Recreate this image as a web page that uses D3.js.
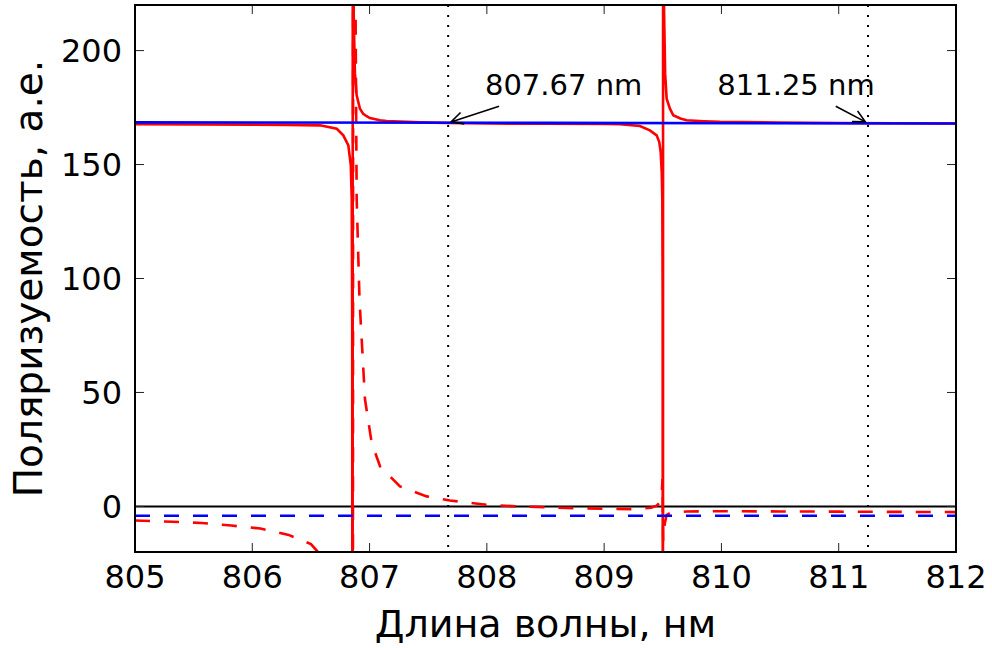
<!DOCTYPE html>
<html>
<head>
<meta charset="utf-8">
<script src="https://cdn.jsdelivr.net/npm/d3@7"></script>
<style>
  body { margin: 0; background: #fff; }
  text { font-family: "DejaVu Sans", sans-serif; fill: #000; }
</style>
</head>
<body>
<svg id="chart" width="992" height="648"></svg>
<script>
// axis ticks
const xTicks = [805, 806, 807, 808, 809, 810, 811, 812];
const yTicks = [0, 50, 100, 150, 200];

// polarizability, solid red (wavelength nm, a.u.)
const redSolid = [
  [805.0, 167.7], [805.5, 167.6], [806.0, 167.5], [806.3, 167.4], [806.577, 167.2],
  [806.72, 165.7], [806.776, 162.8], [806.819, 158.4], [806.84, 149.6], [806.848, 134.9],
  [806.852, 80], [806.855, -300],
  [806.857, 400], [806.865, 215], [806.875, 190], [806.89, 180.4], [806.918, 174.5],
  [806.946, 172.2], [806.975, 171.2], [807.003, 170.4], [807.088, 169.4], [807.146, 169.1],
  [807.43, 168.5], [807.67, 168.2], [808.0, 168.0], [808.5, 167.9], [809.0, 167.8],
  [809.135, 167.7], [809.305, 166.9], [809.39, 165.0], [809.448, 162.8], [809.47, 159.9],
  [809.482, 155.5], [809.491, 146.7], [809.496, 134.9], [809.499, 90], [809.501, -300],
  [809.503, 400], [809.51, 220], [809.52, 190], [809.533, 178.9], [809.561, 174.5],
  [809.589, 171.6], [809.65, 170.2], [809.703, 169.4], [809.85, 169.0], [809.987, 168.7],
  [810.5, 168.4], [811.0, 168.2], [811.5, 168.1], [812.0, 168.0]
];

// dashed red
const redDashed = [
  [805.0, -6.2], [805.32, -6.7], [805.57, -7.3], [805.82, -8.4], [806.07, -9.7],
  [806.31, -12.5], [806.5, -16.5], [806.56, -20], [806.65, -26], [806.75, -40],
  [806.82, -95], [806.855, -600],
  [806.862, 600], [806.875, 300], [806.88, 223], [806.89, 135], [806.914, 91],
  [806.961, 46.9], [807.018, 27.9], [807.089, 17.6], [807.259, 8.8], [807.487, 4.4],
  [807.686, 2.6], [807.999, 0.75], [808.254, 0], [808.681, -0.7], [809.246, -1.2],
  [809.4, -0.6], [809.448, 0.3], [809.47, 1.5], [809.49, 5.1], [809.498, 12],
  [809.503, -15], [809.518, -7.3], [809.533, -3.7], [809.561, -2.9], [809.703, -2.2],
  [810.0, -2.1], [810.5, -2.2], [811.0, -2.3], [811.5, -2.4], [812.0, -2.5]
];

const blueSolid = [[805.0, 168.5], [808.5, 168.3], [812.0, 168.0]];
const blueDashed = [[805.0, -4.1], [812.0, -4.1]];

// magic wavelengths
const markers = [807.67, 811.25];
const notes = [
  { label: "807.67 nm", x: 807.67, y: 168.3, tx: 807.984, ty: 180.4 },
  { label: "811.25 nm", x: 811.25, y: 168.1, tx: 809.965, ty: 180.4 }
];

const plotLeft = 135, plotRight = 956, plotTop = 5, plotBottom = 552;

const svg = d3.select("#chart");

const x = d3.scaleLinear().domain([805, 812]).range([plotLeft, plotRight]);
const y = d3.scaleLinear().domain([-20, 220]).range([plotBottom, plotTop]);

svg.append("defs")
  .append("clipPath")
  .attr("id", "plot-clip")
  .append("rect")
  .attr("x", plotLeft)
  .attr("y", plotTop)
  .attr("width", plotRight - plotLeft)
  .attr("height", plotBottom - plotTop);

const plot = svg.append("g").attr("clip-path", "url(#plot-clip)");

// zero line
plot.append("line")
  .attr("x1", plotLeft).attr("x2", plotRight)
  .attr("y1", y(0)).attr("y2", y(0))
  .attr("stroke", "#000")
  .attr("stroke-width", 2);

// dotted verticals
plot.selectAll(".marker")
  .data(markers)
  .join("line")
  .attr("class", "marker")
  .attr("x1", (d) => x(d)).attr("x2", (d) => x(d))
  .attr("y1", plotTop).attr("y2", plotBottom)
  .attr("stroke", "#000")
  .attr("stroke-width", 2)
  .attr("stroke-dasharray", "2,8");

const line = d3.line().x((d) => x(d[0])).y((d) => y(d[1]));

const series = [
  { data: redSolid, color: "#ff0000", dash: null },
  { data: redDashed, color: "#ff0000", dash: "15,14" },
  { data: blueSolid, color: "#0000ff", dash: null },
  { data: blueDashed, color: "#0000ff", dash: "15,14" }
];

plot.selectAll(".series")
  .data(series)
  .join("path")
  .attr("class", "series")
  .attr("d", (d) => line(d.data))
  .attr("fill", "none")
  .attr("stroke", (d) => d.color)
  .attr("stroke-width", 2.6)
  .attr("stroke-dasharray", (d) => d.dash);

// ticks (inward, all four sides)
const tickLen = 9;
const ticks = svg.append("g").attr("stroke", "#222").attr("stroke-width", 1);
xTicks.forEach((t) => {
  ticks.append("line").attr("x1", x(t)).attr("x2", x(t)).attr("y1", plotBottom).attr("y2", plotBottom - tickLen);
  ticks.append("line").attr("x1", x(t)).attr("x2", x(t)).attr("y1", plotTop).attr("y2", plotTop + tickLen);
});
yTicks.forEach((t) => {
  ticks.append("line").attr("x1", plotLeft).attr("x2", plotLeft + tickLen).attr("y1", y(t)).attr("y2", y(t));
  ticks.append("line").attr("x1", plotRight).attr("x2", plotRight - tickLen).attr("y1", y(t)).attr("y2", y(t));
});

svg.selectAll(".xlabel")
  .data(xTicks)
  .join("text")
  .attr("class", "xlabel")
  .attr("x", (d) => x(d))
  .attr("y", plotBottom + 36)
  .attr("text-anchor", "middle")
  .attr("font-size", 32)
  .text((d) => d);

svg.selectAll(".ylabel")
  .data(yTicks)
  .join("text")
  .attr("class", "ylabel")
  .attr("x", plotLeft - 13)
  .attr("y", (d) => y(d))
  .attr("dy", "0.36em")
  .attr("text-anchor", "end")
  .attr("font-size", 32)
  .text((d) => d);

// frame
svg.append("rect")
  .attr("x", plotLeft).attr("y", plotTop)
  .attr("width", plotRight - plotLeft).attr("height", plotBottom - plotTop)
  .attr("fill", "none")
  .attr("stroke", "#000")
  .attr("stroke-width", 2);

// axis titles
svg.append("text")
  .attr("x", (plotLeft + plotRight) / 2)
  .attr("y", 637)
  .attr("text-anchor", "middle")
  .attr("font-size", 38)
  .text("Длина волны, нм");

svg.append("text")
  .attr("transform", `translate(42,${(plotTop + plotBottom) / 2}) rotate(-90)`)
  .attr("text-anchor", "middle")
  .attr("font-size", 39)
  .text("Поляризуемость, а.е.");

// annotations with arrows from the text box to the point
notes.forEach((n) => {
  const t = svg.append("text")
    .attr("x", x(n.tx))
    .attr("y", y(n.ty))
    .attr("font-size", 29)
    .text(n.label);
  const b = t.node().getBBox();
  const pad = 4;
  const cx = b.x + b.width / 2, cy = b.y + b.height / 2;
  const px = x(n.x), py = y(n.y);
  const dx = px - cx, dy = py - cy;
  // where the center->point ray leaves the padded box
  const sx = (b.width / 2 + pad) / Math.abs(dx);
  const sy = (b.height / 2 + pad) / Math.abs(dy);
  const s = Math.min(sx, sy);
  const x0 = cx + dx * s, y0 = cy + dy * s;
  const len = Math.hypot(px - x0, py - y0);
  const ux = (px - x0) / len, uy = (py - y0) / len;
  const x1 = px - ux * 3, y1 = py - uy * 3;
  const hl = 12, hw = 6;
  const bx = x1 - ux * hl, by = y1 - uy * hl;
  svg.append("path")
    .attr("d", `M${x0},${y0}L${x1},${y1}M${bx - uy * hw},${by + ux * hw}L${x1},${y1}L${bx + uy * hw},${by - ux * hw}`)
    .attr("fill", "none")
    .attr("stroke", "#000")
    .attr("stroke-width", 1.6);
});
</script>
</body>
</html>
